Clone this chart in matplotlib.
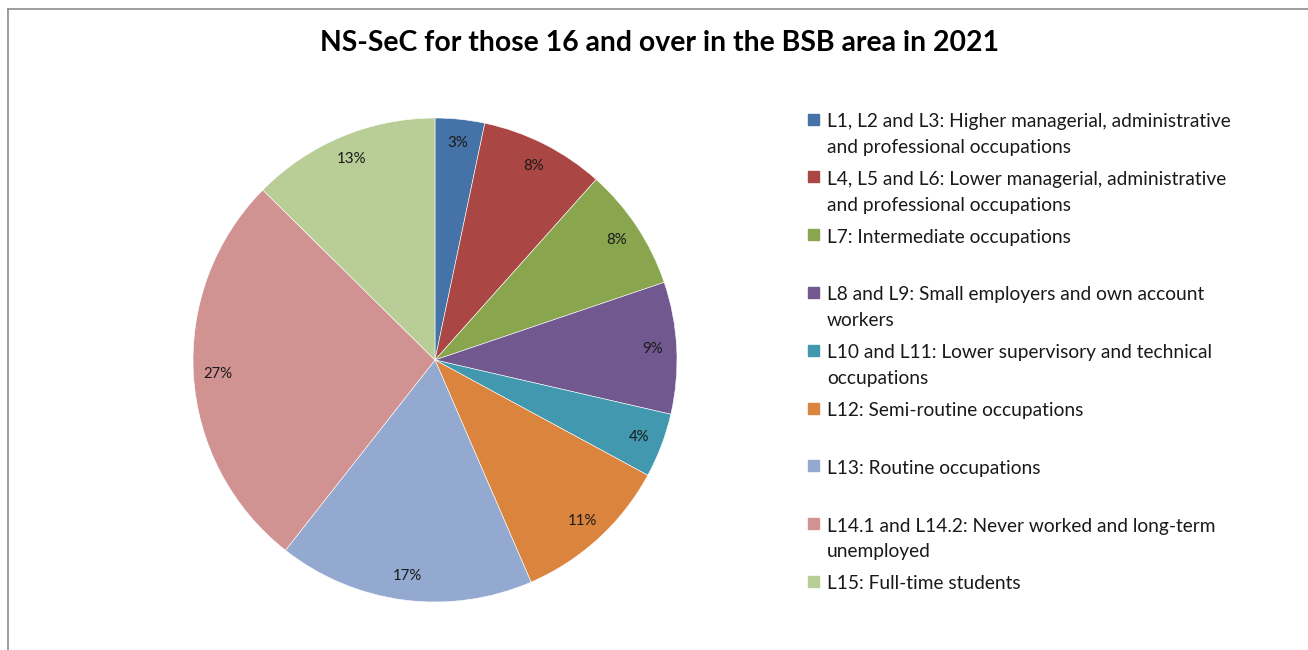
import numpy as np
import matplotlib
matplotlib.use("Agg")
import matplotlib.pyplot as plt
from matplotlib.patches import Rectangle
from matplotlib.lines import Line2D

# NS-SeC groups, 16 and over, BSB area 2021 (percent of residents)
categories = [
    "L1, L2 and L3: Higher managerial, administrative\nand professional occupations",
    "L4, L5 and L6: Lower managerial, administrative\nand professional occupations",
    "L7: Intermediate occupations",
    "L8 and L9: Small employers and own account\nworkers",
    "L10 and L11: Lower supervisory and technical\noccupations",
    "L12: Semi-routine occupations",
    "L13: Routine occupations",
    "L14.1 and L14.2: Never worked and long-term\nunemployed",
    "L15: Full-time students",
]
shares = [3.3, 8.3, 8.2, 8.8, 4.3, 10.6, 17.1, 26.8, 12.6]
colors = ["#4572A7", "#AA4643", "#89A54E", "#71588F", "#4198AF",
          "#DB843D", "#93A9CF", "#D19392", "#B9CD96"]

TITLE = "NS-SeC for those 16 and over in the BSB area in 2021"

plt.rcParams["font.family"] = ["Lato", "DejaVu Sans"]

W, H = 1308, 650
fig = plt.figure(figsize=(W / 100, H / 100), dpi=100)

# chart frame (only top and left edge visible in the crop)
fig.add_artist(Line2D([8 / W, 1.0], [1 - 9 / H, 1 - 9 / H], color="#8c8c8c", lw=1.2))
fig.add_artist(Line2D([8 / W, 8 / W], [0, 1 - 9 / H], color="#8c8c8c", lw=1.2))

fig.text(660 / W, 1 - 43 / H, TITLE, ha="center", va="center",
         fontsize=20.4, fontweight="bold", color="#000000")

cx, cy, r = 435, 360, 242
ax = fig.add_axes([(cx - r) / W, (H - cy - r) / H, 2 * r / W, 2 * r / H])
ax.pie(shares, colors=colors, startangle=90, counterclock=False,
       autopct="%.0f%%", pctdistance=0.9, radius=1.0,
       wedgeprops={"edgecolor": "white", "linewidth": 0.4},
       textprops={"fontsize": 10.8, "color": "#1a1a1a"})
ax.set_xlim(-1, 1)
ax.set_ylim(-1, 1)
ax.set_aspect("auto")
ax.axis("off")

# legend drawn by hand: Excel gives each entry a two-line slot
top = 119
step = 57.8
for i, (lab, c) in enumerate(zip(categories, colors)):
    y = top + i * step
    fig.add_artist(Rectangle((808 / W, 1 - (y + 5.5) / H), 11 / W, 11 / H,
                             transform=fig.transFigure, color=c))
    fig.text(827 / W, 1 - (y - 6) / H, lab, ha="left", va="top",
             fontsize=13.75, color="#1a1a1a", linespacing=1.63)

fig.savefig("out.png", dpi=100)
